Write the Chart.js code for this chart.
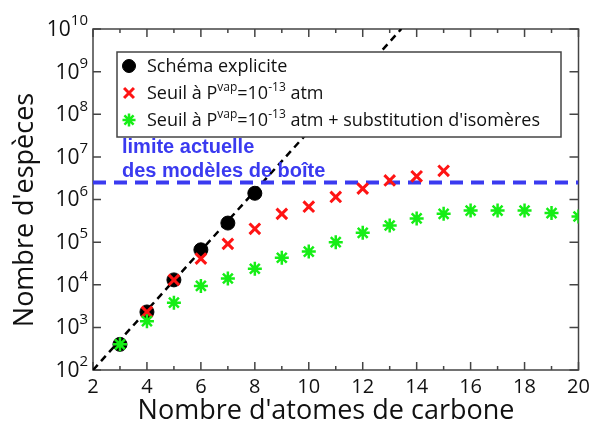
<!DOCTYPE html>
<html lang="fr">
<head>
  <meta charset="UTF-8" />
  <title>Nombre d'espèces selon le nombre d'atomes de carbone</title>
  <script src="https://cdn.jsdelivr.net/npm/chart.js"></script>
  <style>
    body {
      margin: 0;
      background: #fff;
    }
    #wrap {
      width: 589px;
      height: 430px;
    }
  </style>
</head>
<body>
  <div id="wrap"><canvas id="chart"></canvas></div>

  <script>
    // Données
    const carbExplicite = [3, 4, 5, 6, 7, 8];
    const espExplicite = [400, 2300, 13000, 66000, 280000, 1400000];

    const carbSeuil = [4, 5, 6, 7, 8, 9, 10, 11, 12, 13, 14, 15];
    const espSeuil = [2300, 13000, 41000, 91000, 205000, 460000, 680000, 1150000, 1800000, 2800000, 3500000, 4700000];

    const carbIsomeres = [3, 4, 5, 6, 7, 8, 9, 10, 11, 12, 13, 14, 15, 16, 17, 18, 19, 20];
    const espIsomeres = [400, 1400, 3800, 9400, 14000, 23700, 43000, 60000, 100000, 165000, 245000, 360000, 460000, 550000, 550000, 550000, 480000, 400000];

    // droite de tendance (pointillés noirs) et limite des modèles de boîte
    const carbTendance = [2, 13.43];
    const espTendance = [1e2, 1e10];
    const carbLimite = [2, 20];
    const espLimite = [2.5e6, 2.5e6];

    const xTicks = [2, 4, 6, 8, 10, 12, 14, 16, 18, 20];
    const xMinor = [3, 5, 7, 9, 11, 13, 15, 17, 19];
    const yTicks = [1e2, 1e3, 1e4, 1e5, 1e6, 1e7, 1e8, 1e9, 1e10];

    const FONT = '"Open Sans", "DejaVu Sans", sans-serif';
    const BLEU = "#3a3af0";

    function pts(xs, ys) {
      return xs.map((x, i) => ({ x: x, y: ys[i] }));
    }

    // texte avec exposants : [texte, exposant?]
    function drawRich(ctx, parts, x, y, size) {
      parts.forEach(p => {
        if (p[1]) {
          ctx.font = Math.round(size * 0.65) + "px " + FONT;
          ctx.fillText(p[0], x, y - size * 0.38);
        } else {
          ctx.font = size + "px " + FONT;
          ctx.fillText(p[0], x, y);
        }
        x += ctx.measureText(p[0]).width;
      });
    }

    const decor = {
      id: "decor",
      beforeDatasetsDraw(chart) {
        const { ctx, chartArea: a, scales } = chart;
        ctx.save();
        ctx.strokeStyle = "#444";
        ctx.lineWidth = 1.5;
        ctx.strokeRect(a.left, a.top, a.right - a.left, a.bottom - a.top);
        ctx.beginPath();
        xTicks.concat(xMinor).forEach(v => {
          const px = scales.x.getPixelForValue(v);
          const len = xTicks.includes(v) ? 8 : 4;
          ctx.moveTo(px, a.bottom);
          ctx.lineTo(px, a.bottom - len);
          ctx.moveTo(px, a.top);
          ctx.lineTo(px, a.top + len);
        });
        yTicks.forEach(v => {
          const py = scales.y.getPixelForValue(v);
          ctx.moveTo(a.left, py);
          ctx.lineTo(a.left + 8, py);
          ctx.moveTo(a.right, py);
          ctx.lineTo(a.right - 9, py);
        });
        ctx.stroke();
        ctx.restore();
      },
      afterDatasetsDraw(chart) {
        const ctx = chart.ctx;
        ctx.save();

        // texte bleu
        ctx.fillStyle = BLEU;
        ctx.font = "bold 20px 'Liberation Sans', Arial, sans-serif";
        ctx.textBaseline = "alphabetic";
        ctx.textAlign = "left";
        ctx.fillText("limite actuelle", 122, 153);
        ctx.fillText("des modèles de boîte", 122, 177);

        // légende
        ctx.fillStyle = "#fff";
        ctx.fillRect(117, 52, 444, 85);
        ctx.strokeStyle = "#444";
        ctx.lineWidth = 1.5;
        ctx.strokeRect(117, 52, 444, 85);

        const rows = [
          { ds: 2, y: 66, parts: [["Schéma explicite"]] },
          { ds: 1, y: 93, parts: [["Seuil à P"], ["vap", 1], ["=10"], ["-13", 1], [" atm"]] },
          { ds: 0, y: 120, parts: [["Seuil à P"], ["vap", 1], ["=10"], ["-13", 1], [" atm + substitution d'isomères"]] }
        ];
        rows.forEach(r => {
          const d = chart.data.datasets[r.ds];
          ctx.save();
          ctx.fillStyle = d.backgroundColor;
          ctx.strokeStyle = d.borderColor;
          ctx.lineWidth = d.pointBorderWidth;
          Chart.helpers.drawPoint(ctx, {
            pointStyle: d.pointStyle,
            radius: d.pointRadius - 0.5,
            rotation: 0,
            borderWidth: d.pointBorderWidth
          }, 129, r.y);
          ctx.restore();
          ctx.fillStyle = "#111";
          ctx.textBaseline = "middle";
          drawRich(ctx, r.parts, 147, r.y + 1, 18);
        });
        ctx.restore();
      },
      afterDraw(chart) {
        const { ctx, scales } = chart;
        ctx.save();
        ctx.fillStyle = "#111";
        ctx.textBaseline = "middle";
        ctx.textAlign = "left";

        // étiquettes de l'axe y : 10^n
        yTicks.forEach(v => {
          const py = scales.y.getPixelForValue(v);
          const exp = String(Math.round(Math.log10(v)));
          ctx.font = "21px " + FONT;
          const wb = ctx.measureText("10").width;
          ctx.font = "15px " + FONT;
          const we = ctx.measureText(exp).width;
          const x0 = 88 - we - wb;
          ctx.font = "21px " + FONT;
          ctx.fillText("10", x0, py + 1);
          ctx.font = "15px " + FONT;
          ctx.fillText(exp, x0 + wb, py - 8);
        });

        // titres des axes
        ctx.textAlign = "center";
        ctx.font = "27px " + FONT;
        ctx.fillText("Nombre d'atomes de carbone", 326, 411);
        ctx.translate(25, 210);
        ctx.rotate(-Math.PI / 2);
        ctx.fillText("Nombre d'espèces", 0, 0);
        ctx.restore();
      }
    };

    const ctx = document.getElementById("chart").getContext("2d");
    const chart = new Chart(ctx, {
      type: "scatter",
      data: {
        datasets: [
          {
            label: "Seuil à Pvap=10-13 atm + substitution d'isomères",
            data: pts(carbIsomeres, espIsomeres),
            pointStyle: "star",
            pointRadius: 7,
            pointBorderWidth: 2.5,
            borderColor: "#16ee16",
            backgroundColor: "#16ee16",
            order: 0
          },
          {
            label: "Seuil à Pvap=10-13 atm",
            data: pts(carbSeuil, espSeuil),
            pointStyle: "crossRot",
            pointRadius: 7.5,
            pointBorderWidth: 3,
            borderColor: "#ff1414",
            backgroundColor: "#ff1414",
            order: 1
          },
          {
            label: "Schéma explicite",
            data: pts(carbExplicite, espExplicite),
            pointStyle: "circle",
            pointRadius: 7,
            pointBorderWidth: 1,
            borderColor: "#000",
            backgroundColor: "#000",
            order: 2
          },
          {
            label: "limite actuelle des modèles de boîte",
            data: pts(carbLimite, espLimite),
            showLine: true,
            pointRadius: 0,
            borderColor: BLEU,
            borderWidth: 4,
            borderDash: [13, 8],
            order: 3
          },
          {
            label: "tendance",
            data: pts(carbTendance, espTendance),
            showLine: true,
            pointRadius: 0,
            borderColor: "#000",
            borderWidth: 2.5,
            borderDash: [7, 5],
            order: 4
          }
        ]
      },
      options: {
        responsive: true,
        maintainAspectRatio: false,
        animation: false,
        layout: {
          padding: { left: 8, right: 10, top: 29, bottom: 0 }
        },
        plugins: {
          legend: { display: false },
          tooltip: { enabled: false }
        },
        scales: {
          x: {
            type: "linear",
            min: 2,
            max: 20,
            afterBuildTicks: s => {
              s.ticks = xTicks.map(v => ({ value: v }));
            },
            afterFit: s => {
              s.height = 60;
              s.paddingLeft = 0;
              s.paddingRight = 0;
            },
            grid: { display: false, drawTicks: false },
            border: { display: false },
            ticks: {
              padding: 5,
              maxRotation: 0,
              color: "#111",
              font: { family: FONT, size: 20 }
            }
          },
          y: {
            type: "logarithmic",
            min: 1e2,
            max: 1e10,
            afterFit: s => {
              s.width = 85;
              s.paddingTop = 0;
              s.paddingBottom = 0;
            },
            grid: { display: false, drawTicks: false },
            border: { display: false },
            ticks: { display: false }
          }
        }
      },
      plugins: [decor]
    });
  </script>
</body>
</html>
